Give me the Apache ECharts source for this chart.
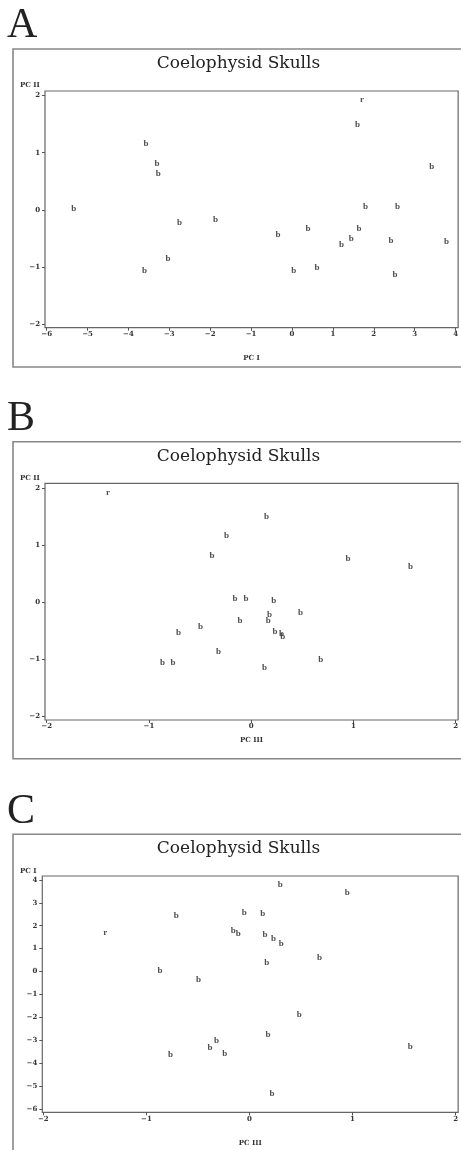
<!DOCTYPE html>
<html><head><meta charset="utf-8">
<script src="https://cdn.jsdelivr.net/npm/echarts@6/dist/echarts.min.js"></script>
<style>html,body{margin:0;padding:0;background:#fff}#c{width:461px;height:1150px}</style>
</head><body><div id="c"></div>
<script>
// Specimen scores (matched across them)
const pcI   = [-3.57, -3.30, -3.27, -5.34, -2.75, -1.87, -3.03, -3.61, -0.34, 0.39, 0.04, 0.61, 1.21, 1.45, 1.64, 1.80, 2.58, 2.42, 2.52, 3.42, 3.78, 1.60, 1.71];
const pcII  = [1.155, 0.815, 0.63, 0.025, -0.218, -0.178, -0.86, -1.055, -0.428, -0.32, -1.055, -1.01, -0.61, -0.51, -0.33, 0.055, 0.065, -0.54, -1.14, 0.76, -0.55, 1.49, 1.92];
const pcIII = [-0.24, -0.383, 1.56, 0.22, 0.18, 0.483, -0.32, -0.765, -0.495, 0.168, -0.868, 0.68, 0.308, 0.233, -0.108, -0.158, -0.05, -0.71, 0.13, 0.948, 0.298, 0.15, -1.40];
const groups = ['b','b','b','b','b','b','b','b','b','b','b','b','b','b','b','b','b','b','b','b','b','b','r'];

const panelLetters = ['A', 'B', 'C'];
const chartTitle = 'Coelophysid Skulls';
const xTicksA = [-6, -5, -4, -3, -2, -1, 0, 1, 2, 3, 4];
const yTicksA = [-2, -1, 0, 1, 2];
const xTicksB = [-2, -1, 0, 1, 2];
const yTicksB = [-2, -1, 0, 1, 2];
const xTicksC = [-2, -1, 0, 1, 2];
const yTicksC = [-6, -5, -4, -3, -2, -1, 0, 1, 2, 3, 4];
const axisNames = [['PC I', 'PC II'], ['PC III', 'PC II'], ['PC III', 'PC I']];

const chart = echarts.init(document.getElementById('c'), null, {renderer: 'canvas'});
const tickFont = {fontFamily: 'DejaVu Serif', fontWeight: 'bold', fontSize: 7, color: '#333'};
const fmt = v => String(v).replace('-', '\u2212');

function mkAxis(ticks, min, max, extra, margin) {
  return Object.assign({
    type: 'value', min: min, max: max,
    axisLine: {show: false, onZero: false},
    splitLine: {show: false},
    axisTick: {show: true, length: 3, customValues: ticks, lineStyle: {color: '#555', width: 1}},
    axisLabel: Object.assign({customValues: ticks, formatter: fmt, margin: margin}, tickFont)
  }, extra || {});
}

const grids = [
  {left: 45, top: 91, width: 414.3, height: 236.7},
  {left: 45, top: 483.3, width: 414.3, height: 236.7},
  {left: 42.3, top: 876, width: 417, height: 236.3}
];
grids.forEach(g => { g.show = true; g.borderColor = '#666'; g.borderWidth = 1.2; g.backgroundColor = 'transparent'; });

const xAxes = [
  mkAxis(xTicksA, -6.041, 4.063, {gridIndex: 0, name: axisNames[0][0], nameLocation: 'middle', nameGap: 27, nameTextStyle: tickFont}, 3),
  mkAxis(xTicksB, -2.017, 2.025, {gridIndex: 1, name: axisNames[1][0], nameLocation: 'middle', nameGap: 17, nameTextStyle: tickFont}, 3),
  mkAxis(xTicksC, -2.01, 2.025, {gridIndex: 2, name: axisNames[2][0], nameLocation: 'middle', nameGap: 27, nameTextStyle: tickFont}, 3)
];
const yAxes = [
  mkAxis(yTicksA, -2.06, 2.08, {gridIndex: 0}, 5),
  mkAxis(yTicksB, -2.058, 2.079, {gridIndex: 1}, 5),
  mkAxis(yTicksC, -6.13, 4.166, {gridIndex: 2}, 5)
];

function mkSeries(xs, ys, idx) {
  return {
    type: 'scatter', xAxisIndex: idx, yAxisIndex: idx,
    symbolSize: 1, itemStyle: {color: 'rgba(0,0,0,0)'},
    data: xs.map((x, i) => ({value: [x, ys[i]], name: groups[i]})),
    label: {show: true, position: 'inside', formatter: '{b}', fontFamily: 'Liberation Serif', fontWeight: 'bold', fontSize: 9, color: '#222'},
    emphasis: {disabled: true}, silent: true, animation: false
  };
}

const boxes = [[13, 49, 318], [13, 441.7, 317], [13, 834.3, 330]];
const letterY = [26, 419, 812];
const titleY = [63.5, 456.2, 848.8];
const yNameY = [85.5, 478, 871.5];
const graphic = [];
boxes.forEach((b, i) => {
  graphic.push({type: 'rect', silent: true, shape: {x: b[0], y: b[1], width: 470, height: b[2]}, style: {fill: 'none', stroke: '#888', lineWidth: 1.6}});
  graphic.push({type: 'text', silent: true, x: 7, y: letterY[i], style: {text: panelLetters[i], font: '42px "Liberation Serif"', fill: '#222', verticalAlign: 'middle', align: 'left'}});
  graphic.push({type: 'text', silent: true, x: 238.5, y: titleY[i], style: {text: chartTitle, font: '17px "DejaVu Serif"', fill: '#222', verticalAlign: 'middle', align: 'center'}});
  graphic.push({type: 'text', silent: true, x: 20, y: yNameY[i], style: {text: axisNames[i][1], font: 'bold 7px "DejaVu Serif"', fill: '#333', verticalAlign: 'middle', align: 'left'}});
});

chart.setOption({
  animation: false,
  grid: grids,
  xAxis: xAxes,
  yAxis: yAxes,
  series: [mkSeries(pcI, pcII, 0), mkSeries(pcIII, pcII, 1), mkSeries(pcIII, pcI, 2)],
  graphic: graphic
});
</script></body></html>
